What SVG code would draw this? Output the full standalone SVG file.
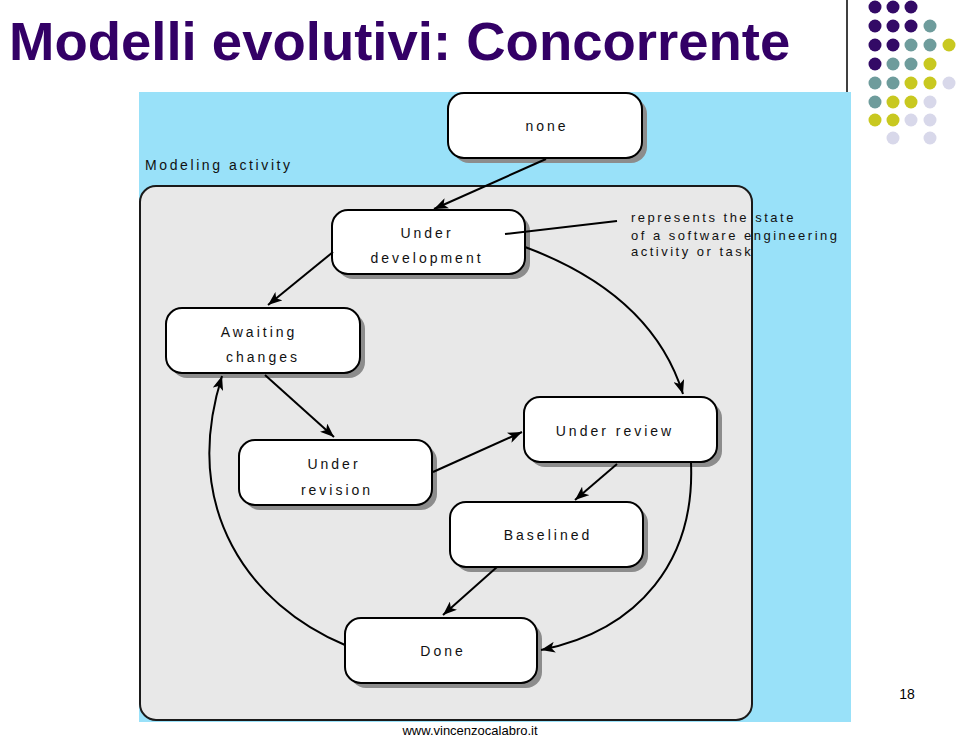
<svg xmlns="http://www.w3.org/2000/svg" width="960" height="740" viewBox="0 0 960 740">
<defs>
<marker id="arr" markerUnits="userSpaceOnUse" markerWidth="15" markerHeight="11" refX="14" refY="5.5" orient="auto">
<path d="M0,0 L14,5.5 L0,11 L3.5,5.5 z" fill="#000"/>
</marker>
<style>
.shadow{fill:#8c8c8c}
.box{fill:#fff;stroke:#000;stroke-width:2}
.lbl{font-family:"Liberation Sans",Arial,sans-serif;font-size:14px;letter-spacing:3px;fill:#111;text-anchor:middle}
.note{font-family:"Liberation Sans",Arial,sans-serif;font-size:13px;letter-spacing:2.5px;fill:#111}
.edge{fill:none;stroke:#000;stroke-width:2}
.p{fill:#330a66}.t{fill:#6e9c9c}.y{fill:#c8c820}.l{fill:#d8d8ea}
</style>
</defs>
<rect width="960" height="740" fill="#fff"/>
<text x="9" y="60" font-family="'Liberation Sans',Arial,sans-serif" font-size="54.5" font-weight="bold" fill="#330066">Modelli evolutivi: Concorrente</text>
<line x1="847" y1="0" x2="847" y2="92" stroke="#000" stroke-width="1.5"/>
<g id="dots">
<circle class="p" cx="875" cy="7" r="6.5"/><circle class="p" cx="893" cy="7" r="6.5"/><circle class="p" cx="911" cy="7" r="6.5"/>
<circle class="p" cx="875" cy="26" r="6.5"/><circle class="p" cx="893" cy="26" r="6.5"/><circle class="p" cx="911" cy="26" r="6.5"/><circle class="t" cx="930" cy="26" r="6.5"/>
<circle class="p" cx="875" cy="45" r="6.5"/><circle class="p" cx="893" cy="45" r="6.5"/><circle class="t" cx="911" cy="45" r="6.5"/><circle class="t" cx="930" cy="45" r="6.5"/><circle class="y" cx="949" cy="45" r="6.5"/>
<circle class="p" cx="875" cy="64" r="6.5"/><circle class="t" cx="893" cy="64" r="6.5"/><circle class="t" cx="911" cy="64" r="6.5"/><circle class="y" cx="930" cy="64" r="6.5"/>
<circle class="t" cx="875" cy="83" r="6.5"/><circle class="t" cx="893" cy="83" r="6.5"/><circle class="y" cx="911" cy="83" r="6.5"/><circle class="y" cx="930" cy="83" r="6.5"/><circle class="l" cx="949" cy="83" r="6.5"/>
<circle class="t" cx="875" cy="102" r="6.5"/><circle class="y" cx="893" cy="102" r="6.5"/><circle class="y" cx="911" cy="102" r="6.5"/><circle class="l" cx="930" cy="102" r="6.5"/>
<circle class="y" cx="875" cy="120" r="6.5"/><circle class="y" cx="893" cy="120" r="6.5"/><circle class="l" cx="911" cy="120" r="6.5"/><circle class="l" cx="930" cy="120" r="6.5"/>
<circle class="l" cx="893" cy="138" r="6.5"/><circle class="l" cx="930" cy="138" r="6.5"/>
</g>
<rect x="139" y="92" width="712" height="630" fill="#99e1f9"/>
<rect x="140" y="186" width="612" height="534" rx="16" fill="#e8e8e8" stroke="#1a1a1a" stroke-width="2"/>
<text x="145" y="170" class="note" style="font-size:14px;letter-spacing:2.6px">Modeling activity</text>
<text class="note" x="631" y="222">represents the state</text>
<text class="note" x="631" y="240">of a software engineering</text>
<text class="note" x="631" y="256">activity or task</text>

<g id="none"><rect class="shadow" x="453" y="98" width="194" height="65" rx="16"/><rect class="box" x="448" y="93" width="194" height="65" rx="16"/><text class="lbl" x="547" y="131">none</text></g>
<g id="underdev"><rect class="shadow" x="337" y="215" width="193" height="64" rx="16"/><rect class="box" x="332" y="210" width="193" height="64" rx="16"/><text class="lbl" x="427" y="238">Under</text><text class="lbl" x="427" y="263">development</text></g>
<g id="awaiting"><rect class="shadow" x="171" y="313" width="194" height="65" rx="16"/><rect class="box" x="166" y="308" width="194" height="65" rx="16"/><text class="lbl" x="259" y="337">Awaiting</text><text class="lbl" x="263" y="362">changes</text></g>
<g id="revision"><rect class="shadow" x="244" y="445" width="193" height="65" rx="16"/><rect class="box" x="239" y="440" width="193" height="65" rx="16"/><text class="lbl" x="334" y="469">Under</text><text class="lbl" x="337" y="495">revision</text></g>
<g id="review"><rect class="shadow" x="529" y="402" width="193" height="65" rx="16"/><rect class="box" x="524" y="397" width="193" height="65" rx="16"/><text class="lbl" x="615" y="436">Under review</text></g>
<g id="baselined"><rect class="shadow" x="455" y="507" width="193" height="65" rx="16"/><rect class="box" x="450" y="502" width="193" height="65" rx="16"/><text class="lbl" x="548" y="540">Baselined</text></g>
<g id="done"><rect class="shadow" x="350" y="623" width="192" height="65" rx="16"/><rect class="box" x="345" y="618" width="192" height="65" rx="16"/><text class="lbl" x="443" y="656">Done</text></g>

<g id="connectors">
<path class="edge" d="M546,159 L434,209" marker-end="url(#arr)"/>
<path class="edge" d="M505,234 L617,221"/>
<path class="edge" d="M333,252 L268,305" marker-end="url(#arr)"/>
<path class="edge" d="M525,247 C600,275 660,320 683,394" marker-end="url(#arr)"/>
<path class="edge" d="M265,375 L334,437" marker-end="url(#arr)"/>
<path class="edge" d="M433,472 L522,432" marker-end="url(#arr)"/>
<path class="edge" d="M617,464 L575,500" marker-end="url(#arr)"/>
<path class="edge" d="M691,463 C695,560 640,630 541,650" marker-end="url(#arr)"/>
<path class="edge" d="M497,567 L443,615" marker-end="url(#arr)"/>
<path class="edge" d="M345,645 C250,605 180,510 222,376" marker-end="url(#arr)"/>
</g>
<text x="470" y="735" font-family="'Liberation Sans Narrow','Liberation Sans',Arial,sans-serif" font-size="13" fill="#000" text-anchor="middle">www.vincenzocalabro.it</text>
<text x="907" y="699" font-family="'Liberation Sans',Arial,sans-serif" font-size="14" fill="#000" text-anchor="middle">18</text>
</svg>
